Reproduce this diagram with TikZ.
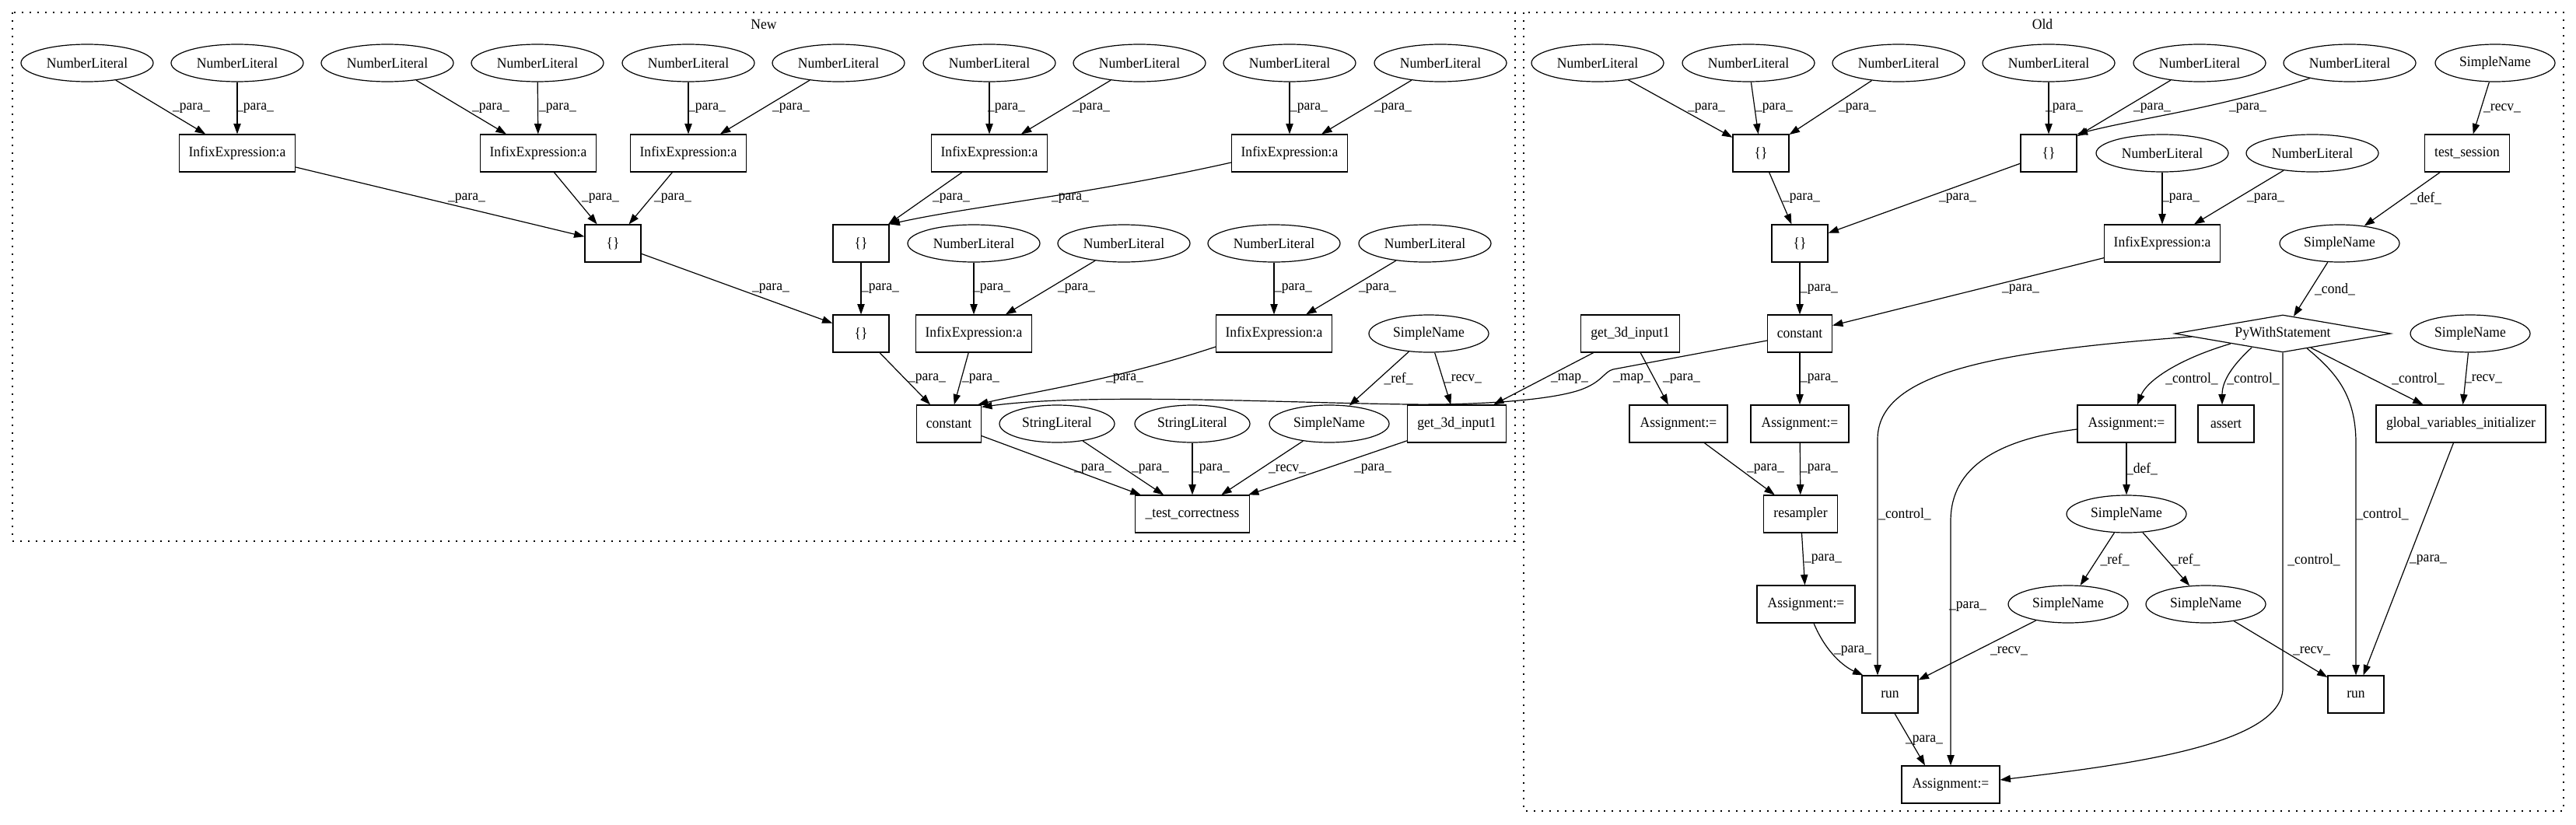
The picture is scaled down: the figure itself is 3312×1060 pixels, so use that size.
\documentclass[tikz,border=0pt]{standalone}
\usepackage{fontspec}
\setmainfont{Liberation Serif}[FakeStretch=0.94]
\usetikzlibrary{shapes.geometric,arrows.meta,calc}
\newcommand\LPara{\_para\_}
\newcommand\LRecv{\_recv\_}
\newcommand\LRef{\_ref\_}
\newcommand\LDef{\_def\_}
\newcommand\LCtrl{\_control\_}
\newcommand\LMap{\_map\_}
\newcommand\LCond{\_cond\_}
\begin{document}
\begin{tikzpicture}[x=0.75pt,y=-0.75pt,font=\fontsize{14pt}{16pt}\selectfont,
  ell/.style={draw,ellipse,inner sep=0pt,minimum height=36pt,line width=0.9pt},
  bx/.style={draw,rectangle,inner sep=0pt,minimum height=36pt,line width=0.9pt},
  nl/.style={ell,minimum width=127.5pt},
  sn/.style={ell,minimum width=115.5pt},
  sl/.style={ell,minimum width=111pt},
  ie/.style={bx,minimum width=111.75pt},
  br/.style={bx,minimum width=54pt},
  asg/.style={bx,minimum width=94.5pt},
  edge/.style={line width=0.9pt,-{Triangle[length=10pt,width=7pt]}},
  lbl/.style={inner sep=0pt},
  clus/.style={line width=0.9pt,dash pattern=on 1.5pt off 6pt}]
\useasboundingbox (0,0) rectangle (3312,1060);
% clusters
\draw[clus] (16,16) rectangle (1948,696);
\draw[clus] (1959,16) rectangle (3296,1043);
\node[lbl] (tnew) at (982,31) {New};
\node[lbl] (told) at (2626,31) {Old};

% ---------------- New ----------------
\node[nl] (n1) at (112,81) {NumberLiteral};
\node[nl] (n2) at (305,81) {NumberLiteral};
\node[nl] (n3) at (498,81) {NumberLiteral};
\node[nl] (n4) at (691,81) {NumberLiteral};
\node[nl] (n5) at (885,81) {NumberLiteral};
\node[nl] (n6) at (1078,81) {NumberLiteral};
\node[nl] (n7) at (1272,81) {NumberLiteral};
\node[nl] (n8) at (1465,81) {NumberLiteral};
\node[nl] (n9) at (1658,81) {NumberLiteral};
\node[nl] (n10) at (1852,81) {NumberLiteral};
\node[ie] (ie1) at (305,197) {InfixExpression:a};
\node[ie] (ie2) at (692,197) {InfixExpression:a};
\node[ie] (ie3) at (885,197) {InfixExpression:a};
\node[ie] (ie4) at (1272,197) {InfixExpression:a};
\node[ie] (ie5) at (1658,197) {InfixExpression:a};
\node[br] (b1) at (788,313) {\{\}};
\node[br] (b2) at (1107,313) {\{\}};
\node[nl] (n11) at (1252,313) {NumberLiteral};
\node[nl] (n12) at (1445,313) {NumberLiteral};
\node[nl] (n13) at (1638,313) {NumberLiteral};
\node[nl] (n14) at (1832,313) {NumberLiteral};
\node[br] (b3) at (1107,429) {\{\}};
\node[ie] (ie6) at (1252,429) {InfixExpression:a};
\node[ie] (ie7) at (1638,429) {InfixExpression:a};
\node[sn] (sn1) at (1837,429) {SimpleName};
\node[bx,minimum width=62.25pt] (nc) at (1220,545) {constant};
\node[sl] (sl1) at (1359,545) {StringLiteral};
\node[sl] (sl2) at (1533,545) {StringLiteral};
\node[sn] (sn2) at (1709,545) {SimpleName};
\node[bx,minimum width=95.25pt] (ng) at (1873,545) {get\_3d\_input1};
\node[bx,minimum width=110.25pt] (tc) at (1533,661) {\_test\_correctness};

\draw[edge] (n1) -- (ie1);  \node[lbl] (l1) at (246,139) {\LPara};
\draw[edge] (n2) -- (ie1);  \node[lbl] (l2) at (328,139) {\LPara};
\draw[edge] (n3) -- (ie2);  \node[lbl] (l3) at (631,139) {\LPara};
\draw[edge] (n4) -- (ie2);  \node[lbl] (l4) at (717,139) {\LPara};
\draw[edge] (n5) -- (ie3);  \node[lbl] (l5) at (909,139) {\LPara};
\draw[edge] (n6) -- (ie3);  \node[lbl] (l6) at (1017,139) {\LPara};
\draw[edge] (n7) -- (ie4);  \node[lbl] (l7) at (1294,139) {\LPara};
\draw[edge] (n8) -- (ie4);  \node[lbl] (l8) at (1403,139) {\LPara};
\draw[edge] (n9) -- (ie5);  \node[lbl] (l9) at (1683,139) {\LPara};
\draw[edge] (n10) -- (ie5); \node[lbl] (l10) at (1791,139) {\LPara};
\draw[edge] (ie1) -- (b1);  \node[lbl] (l11) at (600,255) {\LPara};
\draw[edge] (ie2) -- (b1);  \node[lbl] (l12) at (772,255) {\LPara};
\draw[edge] (ie3) -- (b1);  \node[lbl] (l13) at (865,255) {\LPara};
\draw[edge] (ie4) -- (b2);  \node[lbl] (l14) at (1223,255) {\LPara};
\draw[edge] ($(ie5.west)+(0,12)$) .. controls (1400,250) and (1250,265) .. (b2.north east);
\node[lbl] (l15) at (1376,255) {\LPara};
\draw[edge] (b1) -- (b3);   \node[lbl] (l16) at (991,371) {\LPara};
\draw[edge] (b2) -- (b3);   \node[lbl] (l17) at (1132,371) {\LPara};
\draw[edge] (n11) -- (ie6); \node[lbl] (l18) at (1275,371) {\LPara};
\draw[edge] (n12) -- (ie6); \node[lbl] (l19) at (1384,371) {\LPara};
\draw[edge] (n13) -- (ie7); \node[lbl] (l20) at (1663,371) {\LPara};
\draw[edge] (n14) -- (ie7); \node[lbl] (l21) at (1771,371) {\LPara};
\draw[edge] (b3) -- (nc);   \node[lbl] (l22) at (1192,487) {\LPara};
\draw[edge] (ie6) -- (nc);  \node[lbl] (l23) at (1261,487) {\LPara};
\draw[edge] ($(ie7.west)+(0,17)$) .. controls (1430,490) and (1320,505) .. ($(nc.north east)+(-5,0)$);
\node[lbl] (l24) at (1446,487) {\LPara};
\draw[edge] (sn1) -- (sn2); \node[lbl] (l25) at (1798,487) {\LRef};
\draw[edge] (sn1) -- (ng);  \node[lbl] (l26) at (1881,487) {\LRecv};
\draw[edge] (nc) -- (tc);   \node[lbl] (l27) at (1405,603) {\LPara};
\draw[edge] (sl1) -- (tc);  \node[lbl] (l28) at (1479,603) {\LPara};
\draw[edge] (sl2) -- (tc);  \node[lbl] (l29) at (1557,603) {\LPara};
\draw[edge] (sn2) -- (tc);  \node[lbl] (l30) at (1655,603) {\LRecv};
\draw[edge] (ng) -- (tc);   \node[lbl] (l31) at (1765,603) {\LPara};

% ---------------- Old ----------------
\node[nl] (o1) at (2054,81) {NumberLiteral};
\node[nl] (o2) at (2248,81) {NumberLiteral};
\node[nl] (o3) at (2441,81) {NumberLiteral};
\node[nl] (o4) at (2634,81) {NumberLiteral};
\node[nl] (o5) at (2828,81) {NumberLiteral};
\node[nl] (o6) at (3021,81) {NumberLiteral};
\node[sn] (osn1) at (3208,81) {SimpleName};
\node[br] (ob1) at (2264,197) {\{\}};
\node[br] (ob2) at (2634,197) {\{\}};
\node[nl] (o7) at (2780,197) {NumberLiteral};
\node[nl] (o8) at (2973,197) {NumberLiteral};
\node[bx,minimum width=81.75pt] (ts) at (3172,197) {test\_session};
\node[br] (ob3) at (2314,313) {\{\}};
\node[ie] (oie) at (2780,313) {InfixExpression:a};
\node[sn] (osn2) at (3008,313) {SimpleName};
\node[bx,minimum width=95.25pt] (og) at (2096,429) {get\_3d\_input1};
\node[bx,minimum width=62.25pt] (oc) at (2314,429) {constant};
\node[draw,diamond,inner sep=0pt,minimum width=208.5pt,minimum height=36pt,shape aspect=5.8,line width=0.9pt] (pw) at (2935,429) {PyWithStatement};
\node[sn] (osn3) at (3176,429) {SimpleName};
\node[asg] (oa1) at (2158,545) {Assignment:=};
\node[asg] (oa2) at (2314,545) {Assignment:=};
\node[asg] (oa3) at (2734,545) {Assignment:=};
\node[br] (as) at (2862,545) {assert};
\node[bx,minimum width=163.5pt] (gvi) at (3164,545) {global\_variables\_initializer};
\node[bx,minimum width=71.25pt] (rs) at (2315,661) {resampler};
\node[sn] (osn4) at (2734,661) {SimpleName};
\node[asg] (oa4) at (2322,777) {Assignment:=};
\node[sn] (osn5) at (2659,777) {SimpleName};
\node[sn] (osn6) at (2836,777) {SimpleName};
\node[br] (r1) at (2430,893) {run};
\node[br] (r2) at (3029,893) {run};
\node[asg] (oa5) at (2508,1009) {Assignment:=};

\draw[edge] (o1) -- (ob1);  \node[lbl] (m1) at (2194,139) {\LPara};
\draw[edge] (o2) -- (ob1);  \node[lbl] (m2) at (2281,139) {\LPara};
\draw[edge] (o3) -- (ob1);  \node[lbl] (m3) at (2388,139) {\LPara};
\draw[edge] (o4) -- (ob2);  \node[lbl] (m4) at (2654,139) {\LPara};
\draw[edge] (o5) -- (ob2);  \node[lbl] (m5) at (2767,139) {\LPara};
\draw[edge] (o6.201) .. controls (2850,140) and (2750,152) .. (ob2.north east);
\node[lbl] (m6) at (2890,139) {\LPara};
\draw[edge] (osn1) -- (ts); \node[lbl] (m7) at (3217,139) {\LRecv};
\draw[edge] (ob1) -- (ob3); \node[lbl] (m8) at (2316,255) {\LPara};
\draw[edge] (ob2) -- (ob3); \node[lbl] (m9) at (2517,255) {\LPara};
\draw[edge] (o7) -- (oie);  \node[lbl] (m10) at (2804,255) {\LPara};
\draw[edge] (o8) -- (oie);  \node[lbl] (m11) at (2913,255) {\LPara};
\draw[edge] (ts) -- (osn2); \node[lbl] (m12) at (3119,255) {\LDef};
\draw[edge] (ob3) -- (oc);  \node[lbl] (m13) at (2339,372) {\LPara};
\draw[edge] (oie) -- (oc);  \node[lbl] (m14) at (2598,372) {\LPara};
\draw[edge] (osn2) -- (pw); \node[lbl] (m15) at (3002,372) {\LCond};
\draw[edge] (og) -- (oa1);  \node[lbl] (m16) at (2162,487) {\LPara};
\draw[edge] (oc) -- (oa2);  \node[lbl] (m17) at (2339,487) {\LPara};
\draw[edge] ($(pw.center)+(-67,13)$) .. controls (2800,462) and (2760,490) .. ($(oa3.north)+(14,0)$);
\node[lbl] (m18) at (2818,487) {\LCtrl};
\draw[edge] ($(pw.center)+(-40,18)$) .. controls (2870,470) and (2857,490) .. ($(as.north)+(-5,0)$);
\node[lbl] (m19) at (2897,487) {\LCtrl};
\draw[edge] (pw) -- (gvi);  \node[lbl] (m20) at (3109,487) {\LCtrl};
\draw[edge] (osn3) -- (gvi); \node[lbl] (m21) at (3193,487) {\LRecv};
\draw[edge] (oa1) -- (rs);  \node[lbl] (m22) at (2270,603) {\LPara};
\draw[edge] (oa2) -- (rs);  \node[lbl] (m23) at (2339,603) {\LPara};
\draw[edge] (oa3) -- (osn4); \node[lbl] (m24) at (2754,603) {\LDef};
\draw[edge] ($(pw.center)+(-117,4)$) .. controls (2560,452) and (2414,480) .. (2414,565) -- ($(r1.north)+(-16,0)$);
\node[lbl] (m25) at (2449,661) {\LCtrl};
\draw[edge] ($(pw.center)+(31,19)$) .. controls (3005,480) and (3029,510) .. (3029,570) -- (r2.north);
\node[lbl] (m26) at (3063,661) {\LCtrl};
\draw[edge] (rs) -- (oa4);  \node[lbl] (m27) at (2344,719) {\LPara};
\draw[edge] (osn4) -- (osn5); \node[lbl] (m28) at (2719,720) {\LRef};
\draw[edge] (osn4) -- (osn6); \node[lbl] (m29) at (2810,720) {\LRef};
\draw[edge] (pw.south) -- (2935,885) .. controls (2935,960) and (2720,985) .. ($(oa5.east)+(0,-6)$);
\node[lbl] (m30) at (2975,720) {\LCtrl};
\draw[edge] (gvi) -- (r2);  \node[lbl] (m31) at (3122,720) {\LPara};
\draw[edge] ($(oa3.west)+(0,7)$) .. controls (2570,565) and (2508,600) .. (2508,670) -- (oa5.north);
\node[lbl] (m32) at (2530,780) {\LPara};
\draw[edge] ($(oa4.south)+(10,0)$) .. controls (2348,840) and (2372,858) .. ($(r1.north west)+(2,0)$);
\node[lbl] (m33) at (2382,837) {\LPara};
\draw[edge] (osn5) -- (r1); \node[lbl] (m34) at (2583,837) {\LRecv};
\draw[edge] (osn6) -- (r2); \node[lbl] (m35) at (2972,837) {\LRecv};
\draw[edge] ($(r1.south)+(6,0)$) -- ($(oa5.north)+(-33,0)$);
\node[lbl] (m36) at (2474,952) {\LPara};

% ---------------- cross edges ----------------
\draw[edge] (og) -- (ng);   \node[lbl] (x1) at (2018,487) {\LMap};
\draw[edge] ($(oc.west)+(0,9)$) -- (2074,475) .. controls (2062,478) and (2060,492) .. (2030,502)
  .. controls (1990,515) and (1900,521) .. (1811,520) .. controls (1650,518) and (1400,505) .. ($(nc.north east)+(0,3)$);
\node[lbl] (x2) at (2098,487) {\LMap};
\end{tikzpicture}
\end{document}
